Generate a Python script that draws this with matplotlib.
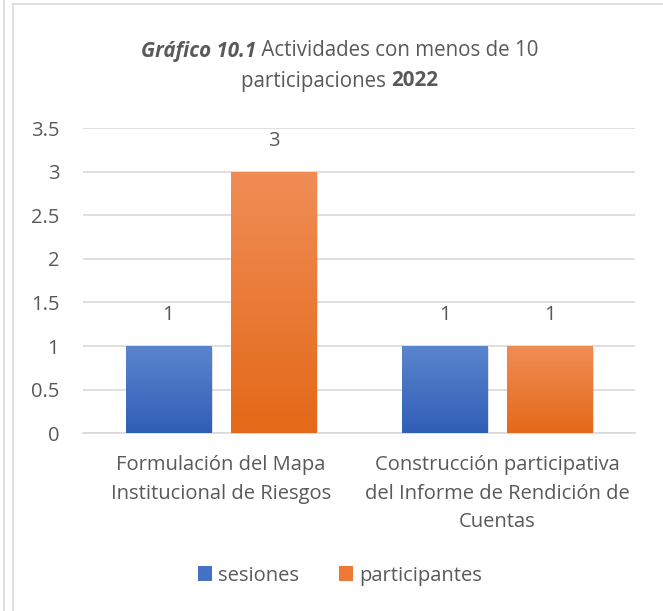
import numpy as np
import matplotlib
matplotlib.use("Agg")
import matplotlib.pyplot as plt
from matplotlib.colors import LinearSegmentedColormap
from matplotlib.lines import Line2D
from matplotlib.patches import Rectangle

plt.rcParams['font.family'] = ['Open Sans', 'DejaVu Sans']

categorias = ["Formulación del Mapa\nInstitucional de Riesgos",
              "Construcción participativa\ndel Informe de Rendición de\nCuentas"]
series = ["sesiones", "participantes"]
sesiones = [1, 1]
participantes = [3, 1]
yticks = [0, 0.5, 1, 1.5, 2, 2.5, 3, 3.5]

gris = "#595959"
azul = ("#2F5EB6", "#5B85CD")      # abajo, arriba
naranja = ("#E46918", "#F08D57")
fs = 14.5

fig = plt.figure(figsize=(6.63, 6.11), dpi=100)
ax = fig.add_axes([0.125, 0.291, 0.833, 0.4995])

x = np.arange(len(categorias))
w = 0.31
off = 0.19

def barras_gradiente(xs, vals, cols):
    cmap = LinearSegmentedColormap.from_list("g", list(cols))
    grad = np.linspace(1, 0, 256).reshape(-1, 1)
    for xi, v in zip(xs, vals):
        # sombra
        sh = Rectangle((xi - w / 2 + 0.006, -0.02), w, v, facecolor="#000000",
                       alpha=0.12, edgecolor="none", zorder=2)
        ax.add_patch(sh)
        r = Rectangle((xi - w / 2, 0), w, v, facecolor="none", edgecolor="none", zorder=3)
        ax.add_patch(r)
        im = ax.imshow(grad, extent=[xi - w / 2, xi + w / 2, 0, v], aspect="auto",
                       cmap=cmap, zorder=3, interpolation="bilinear")
        im.set_clip_path(r)
        ax.annotate(str(v), (xi, v), xytext=(0, 22), textcoords="offset points",
                    ha="center", va="center", fontsize=fs, color=gris)

barras_gradiente(x - off, sesiones, azul)
barras_gradiente(x + off, participantes, naranja)

ax.set_xlim(-0.5, 1.5)
ax.set_ylim(0, 3.5)
ax.set_yticks(yticks)
ax.set_yticklabels([f"{t:g}" for t in yticks])
ax.set_xticks(x)
ax.set_xticklabels(categorias, linespacing=1.55)
ax.tick_params(axis="both", length=0, labelsize=fs, colors=gris)
ax.tick_params(axis="x", pad=16)
ax.tick_params(axis="y", pad=17)
ax.grid(axis="y", color="#D9D9D9", linewidth=1.2, zorder=0)
ax.set_axisbelow(True)
for s in ["top", "right", "left"]:
    ax.spines[s].set_visible(False)
ax.spines["bottom"].set_color("#D9D9D9")
ax.spines["bottom"].set_linewidth(1.2)

# leyenda
handles = [Rectangle((0, 0), 1, 1, facecolor="#4471C4"),
           Rectangle((0, 0), 1, 1, facecolor="#EC7A36")]
fig.legend(handles, series, loc="center", bbox_to_anchor=(0.513, 0.058), ncol=2,
           frameon=False, fontsize=fs, labelcolor=gris, handlelength=0.7,
           handleheight=0.7, handletextpad=0.3, columnspacing=2.0)

# titulo con estilos mezclados
fig.canvas.draw()
renderer = fig.canvas.get_renderer()

def linea(partes, y):
    textos = []
    for s, weight, style in partes:
        t = fig.text(0, y, s, fontsize=14.8, weight=weight, style=style,
                     color=gris, va="center", ha="left")
        textos.append(t)
    anchos = [t.get_window_extent(renderer).width for t in textos]
    total = sum(anchos)
    x0 = (fig.bbox.width * 0.512 - total / 2)
    for t, a in zip(textos, anchos):
        t.set_x(x0 / fig.bbox.width)
        x0 += a

linea([("Gráfico 10.1", "bold", "italic"),
       (" Actividades con menos de 10", "normal", "normal")], 1 - 51 / 611)
linea([("participaciones ", "normal", "normal"),
       ("2022", "bold", "normal")], 1 - 81 / 611)

# bordes
borde = "#D9D9D9"
fig.add_artist(Line2D([13 / 663, 13 / 663], [0, 1 - 4 / 611], color=borde, lw=1.2))
fig.add_artist(Line2D([13 / 663, 1], [1 - 4 / 611, 1 - 4 / 611], color=borde, lw=1.2))
fig.add_artist(Line2D([4 / 663, 4 / 663], [0, 1], color=borde, lw=1.2))

fig.savefig("out.png", dpi=100)
